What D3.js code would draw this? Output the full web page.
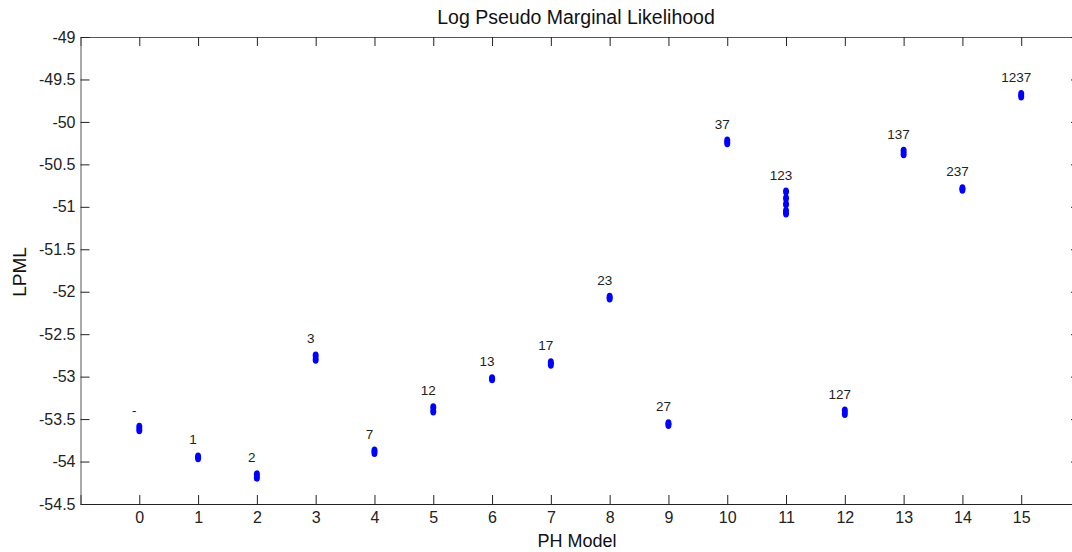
<!DOCTYPE html>
<html>
<head>
<meta charset="utf-8">
<script src="https://cdn.jsdelivr.net/npm/d3@7"></script>
<style>
  body { margin: 0; background: #fff; }
  svg { display: block; font-family: "Liberation Sans", Arial, sans-serif; }
</style>
</head>
<body>
<script>
// models 0..15, each with a few repeated LPML estimates
var models = [0, 1, 2, 3, 4, 5, 6, 7, 8, 9, 10, 11, 12, 13, 14, 15];
var modelLabels = ['-', '1', '2', '3', '7', '12', '13', '17', '23', '27', '37', '123', '127', '137', '237', '1237'];
var lpml = [
  [-53.59, -53.63],
  [-53.94, -53.96],
  [-54.15, -54.19],
  [-52.75, -52.80],
  [-53.87, -53.90],
  [-53.36, -53.41],
  [-53.02, -53.03],
  [-52.83, -52.86],
  [-52.06, -52.08],
  [-53.55, -53.57],
  [-50.22, -50.25],
  [-50.82, -50.90, -50.97, -51.05, -51.08],
  [-53.40, -53.44],
  [-50.34, -50.38],
  [-50.78, -50.80],
  [-49.67, -49.70]
];
var yTicks = [-49, -49.5, -50, -50.5, -51, -51.5, -52, -52.5, -53, -53.5, -54, -54.5];

var width = 1072, height = 552;
var margin = { left: 80.5, top: 37, right: 1080, bottom: 504 };

var svg = d3.select('body').append('svg')
  .attr('width', width)
  .attr('height', height);

var x = d3.scaleLinear().domain([-1, 16]).range([margin.left, margin.right]);
var y = d3.scaleLinear().domain([-54.5, -49]).range([margin.bottom, margin.top]);

var tickLen = 9;

// bottom axis (ticks inward)
svg.append('g')
  .attr('transform', 'translate(0,' + margin.bottom + ')')
  .call(d3.axisBottom(x).tickValues(models).tickSize(-tickLen).tickPadding(8))
  .call(function(g) {
    g.select('.domain').attr('stroke', '#222');
    g.selectAll('text').attr('font-size', 16).attr('fill', '#222');
  });

// top axis
svg.append('g')
  .attr('transform', 'translate(0,' + margin.top + ')')
  .call(d3.axisTop(x).tickValues(models).tickSize(-tickLen).tickFormat(''))
  .call(function(g) { g.select('.domain').attr('stroke', '#555'); });

// left axis
svg.append('g')
  .attr('transform', 'translate(' + margin.left + ',0)')
  .call(d3.axisLeft(y).tickValues(yTicks).tickSize(-tickLen).tickPadding(5)
    .tickFormat(function(d) { return String(d); }))
  .call(function(g) {
    g.select('.domain').attr('stroke', '#555');
    g.selectAll('text').attr('font-size', 16).attr('fill', '#222');
  });

// right axis
svg.append('g')
  .attr('transform', 'translate(' + margin.right + ',0)')
  .call(d3.axisRight(y).tickValues(yTicks).tickSize(-tickLen).tickFormat(''))
  .call(function(g) { g.select('.domain').attr('stroke', '#555'); });

svg.selectAll('.tick line').attr('stroke', '#222');

// points
var pts = [];
lpml.forEach(function(vals, i) {
  vals.forEach(function(v) { pts.push({ m: models[i], v: v }); });
});

svg.append('g').selectAll('ellipse')
  .data(pts)
  .enter()
  .append('ellipse')
    .attr('cx', function(d) { return x(d.m); })
    .attr('cy', function(d) { return y(d.v); })
    .attr('rx', 3)
    .attr('ry', 4)
    .attr('fill', '#0000ff');

// model labels
svg.append('g').selectAll('text')
  .data(models)
  .enter()
  .append('text')
    .attr('x', function(d) { return x(d) - 5; })
    .attr('y', function(d, i) { return y(d3.max(lpml[i])) - 12; })
    .attr('text-anchor', 'middle')
    .attr('font-size', 13.5)
    .attr('fill', '#222')
    .text(function(d, i) { return modelLabels[i]; });

// title and axis labels
svg.append('text')
  .attr('x', 576)
  .attr('y', 24)
  .attr('text-anchor', 'middle')
  .attr('font-size', 19.5)
  .attr('fill', '#111')
  .text('Log Pseudo Marginal Likelihood');

svg.append('text')
  .attr('x', 577)
  .attr('y', 547)
  .attr('text-anchor', 'middle')
  .attr('font-size', 18)
  .attr('fill', '#111')
  .text('PH Model');

svg.append('text')
  .attr('transform', 'translate(26,272) rotate(-90)')
  .attr('text-anchor', 'middle')
  .attr('font-size', 19)
  .attr('fill', '#111')
  .text('LPML');
</script>
</body>
</html>
